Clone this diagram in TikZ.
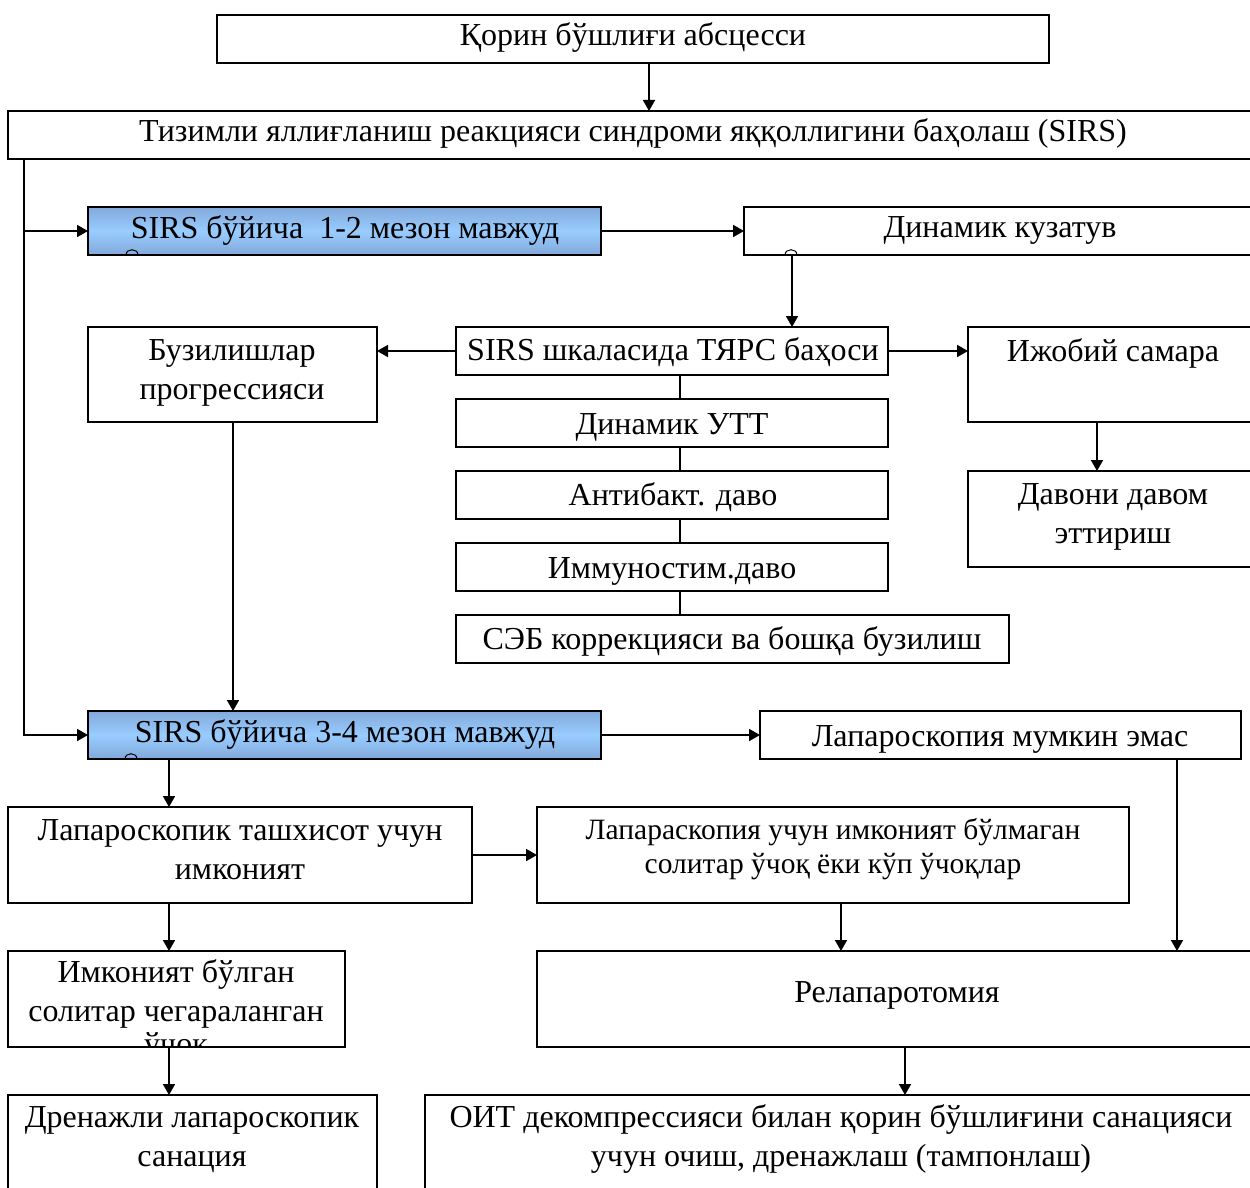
\documentclass[tikz,border=0pt]{standalone}
\usepackage{fontspec}
\setmainfont{Liberation Serif}
\usetikzlibrary{arrows.meta}
\definecolor{sirsedge}{HTML}{82A9DA}
\definecolor{sirsmid}{HTML}{99CCFF}
% \flowbox[style]{name}{x}{y}{width}{height}: box with its north-west corner at (x,y)
\newcommand\flowbox[6][box]{\node[#1, minimum width=#5pt, minimum height=#6pt] (#2) at (#3,#4) {};}
\begin{document}
\begin{tikzpicture}[x=1pt,y=-1pt,
  box/.style={draw, line width=1.8pt, fill=white, inner sep=0pt, outer sep=0pt, anchor=north west},
  sirsbox/.style={box, top color=sirsedge, bottom color=sirsedge, middle color=sirsmid},
  % multi-line labels are placed by the baseline of their last line
  lbl/.style={font=\fontsize{32}{39}\selectfont, align=center, inner sep=0pt, anchor=base, yshift=-2pt},
  smalllbl/.style={lbl, font=\fontsize{29.5}{34}\selectfont},
  conn/.style={line width=1.8pt},
  arr/.style={conn, -{Triangle[length=11pt,width=12pt]}}]
\useasboundingbox (0,0) rectangle (1250,1188);
\clip (0,0) rectangle (1250,1188);

% boxes
\flowbox{top}{217}{15}{832}{48}
\flowbox{sirs}{8}{111}{1262}{48}
\flowbox[sirsbox]{mild}{88}{207}{513}{48}
\flowbox{watch}{744}{207}{526}{48}
\flowbox{score}{456}{327}{432}{48}
\flowbox{prog}{88}{327}{289}{95}
\flowbox{good}{968}{327}{302}{95}
\flowbox{cont}{968}{471}{302}{96}
\flowbox{utt}{456}{399}{432}{48}
\flowbox{abt}{456}{471}{432}{48}
\flowbox{imm}{456}{543}{432}{48}
\flowbox{seb}{456}{615}{553}{48}
\flowbox[sirsbox]{severe}{88}{711}{513}{48}
\flowbox{nolap}{760}{711}{481}{48}
\flowbox{lapdx}{8}{807}{464}{96}
\flowbox{multi}{537}{807}{592}{96}
\flowbox{relap}{537}{951}{733}{96}
\flowbox{solit}{8}{951}{337}{96}
\flowbox{drain}{8}{1095}{369}{120}
\flowbox{oit}{425}{1095}{845}{120}

% labels
\node[lbl] (top-t) at (633,44) {Қорин бўшлиғи абсцесси};
\node[lbl] (sirs-t) at (633,140) {Тизимли яллиғланиш реакцияси синдроми яққоллигини баҳолаш (SIRS)};
\node[lbl] (mild-t) at (345,236) {SIRS бўйича\ \ 1-2 мезон мавжуд};
\node[lbl] (watch-t) at (1000,235) {Динамик кузатув};
\node[lbl] (score-t) at (673,358) {SIRS шкаласида ТЯРС баҳоси};
\node[lbl] (prog-t) at (232,397) {Бузилишлар\\прогрессияси};
\node[lbl] (good-t) at (1113,359) {Ижобий самара};
\node[lbl] (cont-t) at (1113,541) {Давони давом\\эттириш};
\node[lbl] (utt-t) at (672,432) {Динамик УТТ};
\node[lbl] (abt-t) at (673,503) {Антибакт. даво};
\node[lbl] (imm-t) at (672,576) {Иммуностим.даво};
\node[lbl] (seb-t) at (732,647) {СЭБ коррекцияси ва бошқа бузилиш};
\node[lbl] (severe-t) at (345,740) {SIRS бўйича 3-4 мезон мавжуд};
\node[lbl] (nolap-t) at (1000,744) {Лапароскопия мумкин эмас};
\node[lbl] (lapdx-t) at (240,877) {Лапароскопик ташхисот учун\\имконият};
\node[smalllbl] (multi-t) at (833,871) {Лапараскопия учун имконият бўлмаган\\солитар ўчоқ ёки кўп ўчоқлар};
\node[lbl] (relap-t) at (897,1000) {Релапаротомия};
% the last line runs past the lower edge of its box and is cut off there
\begin{scope}
  \clip ([yshift=0.9pt]solit.south west) rectangle (solit.north east);
  \node[lbl] (solit-t) at (176,1052) {Имконият бўлган\\солитар чегараланган\\[-6pt]ўчоқ};
\end{scope}
\node[lbl] (drain-t) at (192,1164) {Дренажли лапароскопик\\санация};
\node[lbl] (oit-t) at (841,1164) {ОИТ декомпрессияси билан қорин бўшлиғини санацияси\\учун очиш, дренажлаш (тампонлаш)};

% small marks along the lower edges
\draw[line width=1pt] (126,255) .. controls (126,248) and (138,248) .. (138,255);
\draw[line width=1pt] (785,255) .. controls (785,248) and (797,248) .. (797,255);
\draw[line width=1pt] (125,759) .. controls (125,752) and (137,752) .. (137,759);

% connectors
\draw[arr] ([xshift=432pt]top.south west) -- ([xshift=641pt]sirs.north west);
\draw[arr] ([xshift=16pt]sirs.south west) |- (mild.west);
\draw[arr] ([xshift=16pt]sirs.south west) |- (severe.west);
\draw[arr] (mild.east) -- (watch.west);
\draw[arr] ([xshift=48pt]watch.south west) -- ([xshift=336pt]score.north west);
\draw[arr] (score.west) -- (score.west -| prog.east);
\draw[arr] (score.east) -- (score.east -| good.west);
\draw[arr] ([xshift=129pt]good.south west) -- ([xshift=129pt]cont.north west);
\draw[conn] ([xshift=224pt]score.south west) -- ([xshift=224pt]utt.north west);
\draw[conn] ([xshift=224pt]utt.south west) -- ([xshift=224pt]abt.north west);
\draw[conn] ([xshift=224pt]abt.south west) -- ([xshift=224pt]imm.north west);
\draw[conn] ([xshift=224pt]imm.south west) -- ([xshift=224pt]seb.north west);
\draw[arr] ([xshift=145pt]prog.south west) -- ([xshift=145pt]severe.north west);
\draw[arr] (severe.east) -- (nolap.west);
\draw[arr] ([xshift=81pt]severe.south west) -- ([xshift=161pt]lapdx.north west);
\draw[arr] (lapdx.east) -- (multi.west);
\draw[arr] ([xshift=304pt]multi.south west) -- ([xshift=304pt]relap.north west);
\draw[arr] ([xshift=417pt]nolap.south west) -- ([xshift=640pt]relap.north west);
\draw[arr] ([xshift=161pt]lapdx.south west) -- ([xshift=161pt]solit.north west);
\draw[arr] ([xshift=161pt]solit.south west) -- ([xshift=161pt]drain.north west);
\draw[arr] ([xshift=368pt]relap.south west) -- ([xshift=480pt]oit.north west);
\end{tikzpicture}
\end{document}
